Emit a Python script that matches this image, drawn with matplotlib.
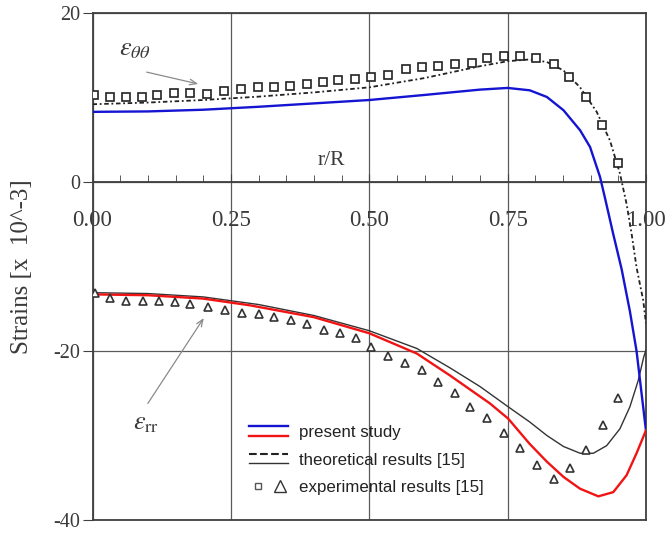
import matplotlib
matplotlib.use('Agg')
import matplotlib.pyplot as plt
from matplotlib.legend_handler import HandlerBase, HandlerTuple
from matplotlib.lines import Line2D
from matplotlib.ticker import MultipleLocator

plt.rcParams['font.family'] = 'Liberation Serif'
plt.rcParams['mathtext.fontset'] = 'stix'
plt.rcParams['axes.unicode_minus'] = False

# present study, hoop strain (blue)
r_blue = [0.0, 0.1, 0.2, 0.3, 0.4, 0.5, 0.6, 0.7, 0.75, 0.79, 0.821, 0.851,
          0.881, 0.899, 0.917, 0.926, 0.941, 0.956, 0.971, 0.983, 1.0]
e_blue = [8.3, 8.35, 8.55, 8.9, 9.3, 9.7, 10.3, 10.93, 11.13, 10.85, 10.06,
          8.49, 6.12, 4.14, 0.6, -1.9, -6.2, -10.3, -15.3, -20.0, -29.4]

# present study, radial strain (red)
r_red = [0.0, 0.1, 0.2, 0.285, 0.4, 0.5, 0.586, 0.646, 0.718, 0.751, 0.79,
         0.821, 0.851, 0.881, 0.914, 0.941, 0.965, 0.983, 1.0]
e_red = [-13.3, -13.4, -13.8, -14.6, -16.0, -17.9, -20.3, -22.9, -26.2, -28.0,
         -31.0, -33.1, -34.9, -36.3, -37.2, -36.7, -34.7, -32.1, -29.4]

# theoretical [15], radial (solid black)
r_th_rr = [0.0, 0.1, 0.2, 0.3, 0.4, 0.5, 0.586, 0.646, 0.7, 0.751, 0.79, 0.821,
           0.851, 0.881, 0.905, 0.929, 0.953, 0.971, 0.986, 0.996, 1.0]
e_th_rr = [-13.1, -13.2, -13.6, -14.5, -15.8, -17.6, -19.7, -22.0, -24.2, -26.6,
           -28.4, -30.0, -31.3, -32.1, -32.1, -31.2, -29.2, -26.6, -23.5, -20.7,
           -19.9]

# theoretical [15], hoop (dotted black)
r_th_tt = [0.0, 0.1, 0.2, 0.3, 0.4, 0.5, 0.6, 0.65, 0.7, 0.751, 0.79, 0.821,
           0.851, 0.881, 0.911, 0.935, 0.953, 0.965, 0.974, 0.983, 0.995, 1.0]
e_th_tt = [9.2, 9.4, 9.7, 10.1, 10.6, 11.2, 12.3, 13.0, 13.7, 14.3, 14.5, 14.2,
           13.2, 11.2, 8.3, 4.9, 1.0, -2.6, -6.1, -10.1, -14.0, -16.7]

# experimental [15], hoop (squares)
r_sq = [0.003, 0.032, 0.061, 0.089, 0.117, 0.147, 0.177, 0.207, 0.238, 0.268,
        0.299, 0.328, 0.357, 0.387, 0.416, 0.444, 0.474, 0.503, 0.534, 0.566,
        0.595, 0.625, 0.655, 0.685, 0.712, 0.743, 0.772, 0.802, 0.834, 0.861,
        0.891, 0.921, 0.950]
e_sq = [10.3, 10.1, 10.0, 10.0, 10.3, 10.5, 10.5, 10.4, 10.8, 11.0, 11.2, 11.2,
        11.3, 11.6, 11.8, 12.1, 12.2, 12.4, 12.7, 13.4, 13.6, 13.7, 14.0, 14.1,
        14.7, 14.9, 14.9, 14.7, 14.0, 12.4, 10.0, 6.7, 2.2]

# experimental [15], radial (triangles)
r_tri = [0.005, 0.032, 0.061, 0.091, 0.121, 0.149, 0.177, 0.209, 0.239, 0.270,
         0.300, 0.328, 0.358, 0.388, 0.418, 0.447, 0.476, 0.504, 0.534, 0.565,
         0.595, 0.625, 0.655, 0.682, 0.712, 0.743, 0.772, 0.804, 0.834, 0.863,
         0.892, 0.922, 0.950]
e_tri = [-13.1, -13.7, -14.1, -14.1, -14.1, -14.2, -14.4, -14.8, -15.2, -15.5,
         -15.6, -16.0, -16.3, -16.8, -17.5, -17.9, -18.5, -19.5, -20.6, -21.4,
         -22.2, -23.7, -25.0, -26.6, -27.9, -29.7, -31.5, -33.5, -35.1, -33.9,
         -31.7, -28.7, -25.6]

x_ticks = [0.0, 0.25, 0.5, 0.75, 1.0]
x_ticklabels = ['0.00', '0.25', '0.50', '0.75', '1.00']
y_ticks = [-40, -20, 0, 20]


class Stacked:
    def __init__(self, top, bottom):
        self.top = top
        self.bottom = bottom


class StackedHandler(HandlerBase):
    # two short lines drawn one above the other
    def create_artists(self, legend, orig_handle, xdescent, ydescent,
                       width, height, fontsize, trans):
        arts = []
        for h, frac in ((orig_handle.top, 0.9), (orig_handle.bottom, 0.1)):
            y = frac * height - ydescent
            ln = Line2D([-xdescent, width - xdescent], [y, y],
                        color=h.get_color(), linestyle=h.get_linestyle(),
                        linewidth=h.get_linewidth())
            ln.set_transform(trans)
            arts.append(ln)
        return arts


spine_col = '#404040'
grid_col = '#5a5a5a'
text_col = '#3a3a3a'

fig = plt.figure(figsize=(6.68, 5.34), dpi=100)
ax = fig.add_axes([0.1385, 0.0262, 0.8285, 0.9495])

blue, = ax.plot(r_blue, e_blue, color='#1414d2', lw=1.7, zorder=4)
red, = ax.plot(r_red, e_red, color='#f01414', lw=1.7, zorder=4)
th_rr, = ax.plot(r_th_rr, e_th_rr, color='#333333', lw=1.0, zorder=3)
th_tt, = ax.plot(r_th_tt, e_th_tt, color='#222222', lw=1.3,
                 linestyle=(0, (2.5, 1.5, 1, 1.5)), zorder=3)
sq, = ax.plot(r_sq, e_sq, 's', ms=5.6, mfc='white', mec='#222222', mew=1.2,
              zorder=5)
tri, = ax.plot(r_tri, e_tri, '^', ms=6.2, mfc='white', mec='#333333', mew=1.2,
               zorder=5)

ax.set_xlim(0, 1)
ax.set_ylim(-40, 20)

# x axis sits on the zero line, labels inside the plot
ax.spines['bottom'].set_position(('data', 0))
ax.axhline(-40, color=spine_col, lw=1.3, clip_on=False, zorder=6)
for s in ('left', 'right', 'top', 'bottom'):
    ax.spines[s].set_color(spine_col)
    ax.spines[s].set_linewidth(1.3)

ax.set_xticks(x_ticks)
ax.set_xticklabels(x_ticklabels)
ax.xaxis.set_minor_locator(MultipleLocator(0.05))
ax.tick_params(axis='x', which='major', direction='in', length=6, pad=20,
               labelsize=16.5, labelcolor=text_col, color=spine_col)
ax.tick_params(axis='x', which='minor', direction='in', length=5,
               color=spine_col)
ax.set_yticks(y_ticks)
ax.tick_params(axis='y', direction='out', length=7, labelsize=14.5,
               labelcolor=text_col, color=spine_col, pad=2)
ax.grid(True, which='major', color=grid_col, lw=0.9)
ax.set_axisbelow(True)

ax.set_ylabel('Strains [x  10^-3]', fontsize=18, color=text_col)
ax.yaxis.set_label_coords(-0.107, 0.5)

ax.text(0.431, 2.6, 'r/R', fontsize=15.5, color=text_col,
        ha='center', va='center')

ax.text(0.077, 15.6, r'$\varepsilon_{\theta\theta}$', fontsize=19,
        color=text_col, ha='center', va='center')
ax.annotate('', xy=(0.191, 11.6), xytext=(0.098, 13.0),
            arrowprops=dict(arrowstyle='->,head_length=0.5,head_width=0.2',
                            color='#8a8a8a', lw=0.9, shrinkA=0, shrinkB=0))
ax.text(0.097, -28.6, r'$\varepsilon_{\mathrm{rr}}$', fontsize=19,
        color=text_col, ha='center', va='center')
ax.annotate('', xy=(0.201, -16.1), xytext=(0.100, -26.2),
            arrowprops=dict(arrowstyle='->,head_length=0.5,head_width=0.2',
                            color='#8a8a8a', lw=0.9, shrinkA=0, shrinkB=0))

dash_proxy = Line2D([], [], color='#222222', lw=1.5, linestyle='--')
sq_proxy = Line2D([], [], marker='s', ls='none', ms=4.6, mfc='white',
                  mec='#555555', mew=1.0)
tri_proxy = Line2D([], [], marker='^', ls='none', ms=8, mfc='white',
                   mec='#333333', mew=1.0)
leg = ax.legend([Stacked(blue, red), Stacked(dash_proxy, th_rr),
                 (sq_proxy, tri_proxy)],
                ['present study', 'theoretical results [15]',
                 'experimental results [15]'],
                handler_map={Stacked: StackedHandler(),
                             tuple: HandlerTuple(ndivide=2, pad=0.3)},
                loc='center left', bbox_to_anchor=(0.262, 0.118),
                frameon=False, handlelength=2.3, handletextpad=0.6,
                labelspacing=0.75, borderpad=0.2,
                prop={'family': 'Liberation Sans', 'size': 12.2})
for t in leg.get_texts():
    t.set_color('#222222')

fig.savefig('out.png', dpi=100)
